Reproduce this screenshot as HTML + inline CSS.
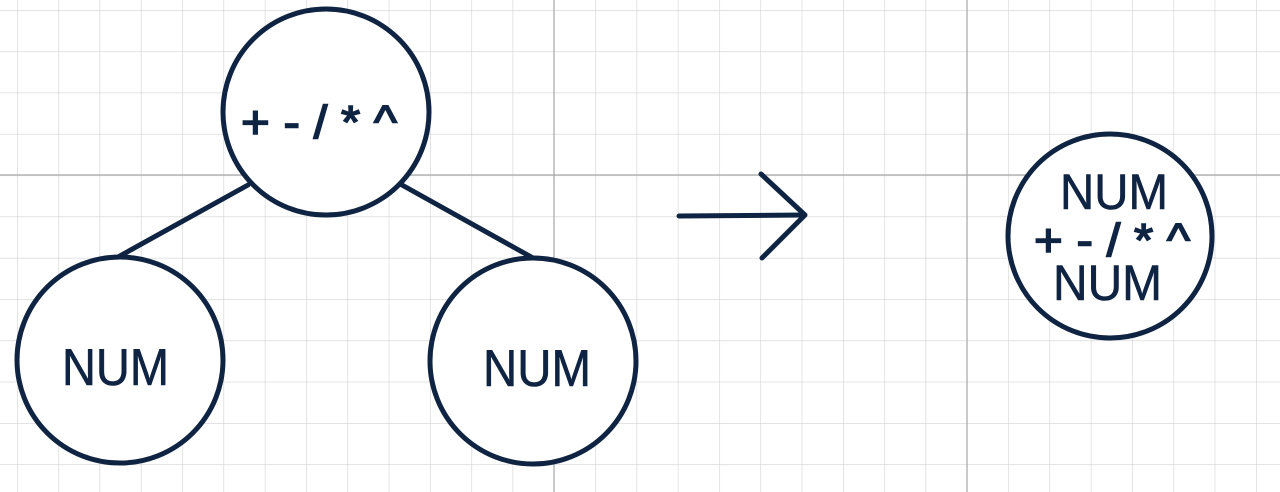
<!DOCTYPE html>
<html><head><style>
html,body{margin:0;padding:0;background:#fff;}
svg{display:block;}
text{font-family:"Liberation Sans",sans-serif;fill:#0f2442;}
.op{stroke:#0f2442;stroke-width:1.6;}
.n{stroke:#0f2442;stroke-width:0.6;}
</style></head><body>
<svg width="1280" height="492" viewBox="0 0 1280 492">
<defs>
<pattern id="g" x="17" y="10" width="41.3" height="41.3" patternUnits="userSpaceOnUse">
<path d="M0 0V41.3M0 0H41.3" stroke="#d2d2d2" stroke-width="1.2" fill="none"/>
</pattern>
</defs>
<rect width="1280" height="492" fill="url(#g)"/>
<line x1="0" y1="175" x2="1280" y2="175" stroke="#a8a8a8" stroke-width="1.2"/>
<line x1="554" y1="0" x2="554" y2="492" stroke="#a8a8a8" stroke-width="1.2"/>
<line x1="967" y1="0" x2="967" y2="492" stroke="#a8a8a8" stroke-width="1.2"/>
<g stroke="#0f2442" stroke-width="5" fill="none" stroke-linecap="round" stroke-linejoin="round">
<line x1="248" y1="185" x2="118" y2="257"/>
<line x1="402" y1="185" x2="533" y2="258"/>
<line x1="679" y1="216" x2="804" y2="215"/>
<polyline points="761,174 805,215 762,258"/>
</g>
<g stroke="#0f2442" stroke-width="5" fill="#fff">
<circle cx="326" cy="112" r="103"/>
<circle cx="120" cy="360" r="103"/>
<circle cx="533" cy="361" r="103"/>
<circle cx="1110" cy="236" r="102"/>
</g>
<text class="op" x="241" y="138" font-size="46" textLength="156" lengthAdjust="spacingAndGlyphs">+ - / * ^</text>
<text class="n" x="62" y="385" font-size="52" textLength="107" lengthAdjust="spacingAndGlyphs">NUM</text>
<text class="n" x="483" y="386" font-size="52" textLength="108" lengthAdjust="spacingAndGlyphs">NUM</text>
<text class="n" x="1060" y="209" font-size="50" textLength="108" lengthAdjust="spacingAndGlyphs">NUM</text>
<text class="op" x="1034" y="256" font-size="46" textLength="156" lengthAdjust="spacingAndGlyphs">+ - / * ^</text>
<text class="n" x="1053" y="300" font-size="50" textLength="109" lengthAdjust="spacingAndGlyphs">NUM</text>
</svg>
</body></html>
